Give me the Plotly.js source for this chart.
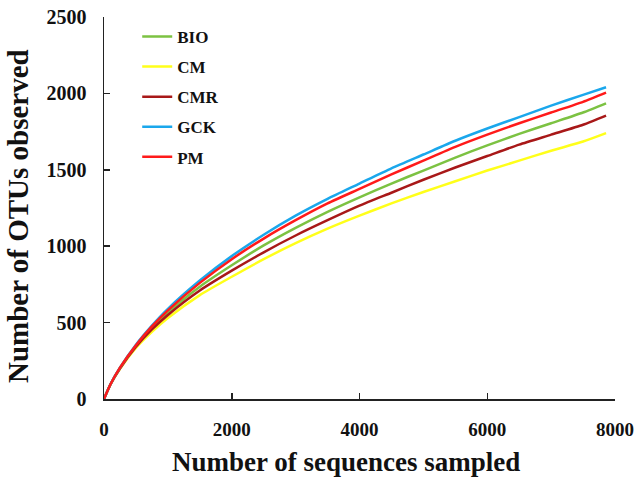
<!DOCTYPE html>
<html>
<head>
<meta charset="utf-8">
<script src="https://cdn.plot.ly/plotly-3.0.1.min.js"></script>
<style>html,body{margin:0;padding:0;background:#fff;}#chart{width:640px;height:478px;}</style>
</head>
<body>
<div id="chart"></div>
<script>
var seqs = [0, 100, 250, 500, 750, 1000, 1500, 2000, 2500, 3000, 3500, 4000, 4500, 5000, 5500, 6000, 6500, 7000, 7500, 7860];
var BIO = [0, 95, 203, 348, 465, 565, 735, 875, 1005, 1120, 1225, 1320, 1410, 1495, 1580, 1660, 1735, 1805, 1875, 1935];
var CM  = [0, 93, 197, 335, 440, 530, 680, 800, 915, 1020, 1115, 1200, 1280, 1355, 1425, 1495, 1560, 1625, 1685, 1740];
var CMR = [0, 95, 200, 342, 455, 550, 710, 840, 960, 1070, 1170, 1265, 1350, 1435, 1515, 1590, 1665, 1730, 1795, 1855];
var GCK = [0, 95, 205, 355, 480, 590, 775, 935, 1075, 1200, 1310, 1410, 1510, 1600, 1690, 1770, 1845, 1920, 1990, 2040];
var PM  = [0, 95, 205, 352, 475, 580, 760, 915, 1050, 1170, 1280, 1375, 1470, 1560, 1650, 1730, 1805, 1875, 1945, 2005];
var names = ['BIO', 'CM', 'CMR', 'GCK', 'PM'];
var series = [BIO, CM, CMR, GCK, PM];
var colors = ['#7CC242', '#FFFF1A', '#A81818', '#1AA7EC', '#FF1A1A'];
var xTitle = 'Number of sequences sampled';
var yTitle = 'Number of OTUs observed';

var traces = names.map(function (n, i) {
  return {
    x: seqs, y: series[i], name: n, type: 'scatter', mode: 'lines',
    legendgroup: n,
    line: {color: colors[i], width: 2.5, shape: 'spline', smoothing: 0.6}
  };
});

var serif = 'Liberation Serif, Times New Roman, serif';
var layout = {
  width: 640, height: 478,
  margin: {l: 104, r: 25, t: 17, b: 79},
  paper_bgcolor: '#fff', plot_bgcolor: '#fff',
  showlegend: true,
  legend: {
    x: 0.065, y: 0.995, xanchor: 'left', yanchor: 'top',
    traceorder: 'grouped', tracegroupgap: 5,
    font: {family: serif, size: 17, color: '#111', weight: 'bold'},
    bgcolor: 'rgba(0,0,0,0)'
  },
  xaxis: {
    range: [0, 8000], tickvals: [0, 2000, 4000, 6000, 8000],
    showgrid: false, zeroline: false, showline: true, linecolor: '#222', linewidth: 1.5,
    ticks: 'inside', ticklen: 6, tickcolor: '#222', tickwidth: 1.5,
    ticklabelstandoff: 13,
    tickfont: {family: serif, size: 19, color: '#111', weight: 'bold'}
  },
  yaxis: {
    range: [0, 2500], tickvals: [0, 500, 1000, 1500, 2000, 2500],
    showgrid: false, zeroline: false, showline: true, linecolor: '#222', linewidth: 1.5,
    ticks: 'inside', ticklen: 6, tickcolor: '#222', tickwidth: 1.5,
    ticklabelstandoff: 12,
    tickfont: {family: serif, size: 20, color: '#111', weight: 'bold'}
  },
  annotations: [
    {text: xTitle, xref: 'paper', yref: 'paper', x: 0.474, y: -0.165,
     xanchor: 'center', yanchor: 'middle', showarrow: false,
     font: {family: serif, size: 27, color: '#111', weight: 'bold'}},
    {text: yTitle, xref: 'paper', yref: 'paper', x: -0.167, y: 0.478, textangle: -90,
     xanchor: 'center', yanchor: 'middle', showarrow: false,
     font: {family: serif, size: 29, color: '#111', weight: 'bold'}}
  ]
};
Plotly.newPlot('chart', traces, layout, {staticPlot: true});
</script>
</body>
</html>
